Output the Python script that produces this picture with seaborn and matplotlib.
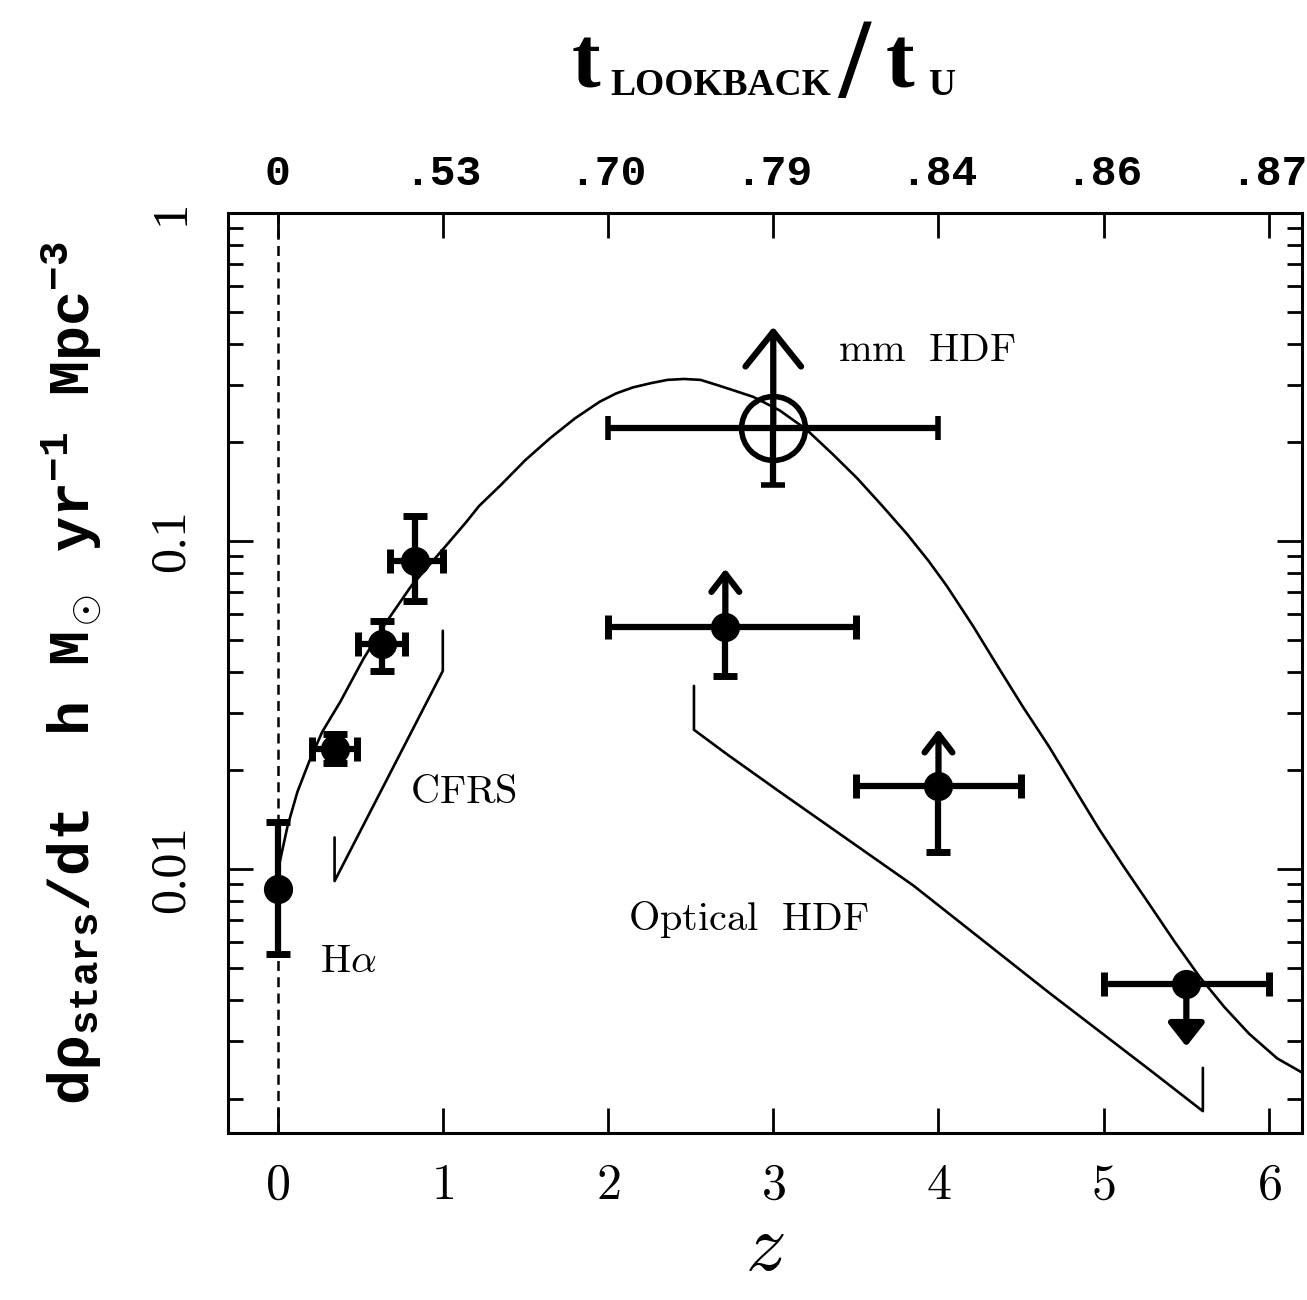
import numpy as np
import matplotlib
matplotlib.use('Agg')
import matplotlib.pyplot as plt
import seaborn as sns
from matplotlib.patches import FancyArrowPatch
from matplotlib.ticker import LogLocator, NullFormatter, FixedLocator

# model star formation rate curve
model_z = [0.0, 0.06, 0.12, 0.19, 0.27, 0.38, 0.52, 0.66, 0.81, 1.02, 1.14, 1.22,
           1.35, 1.5, 1.65, 1.8, 1.95, 2.05, 2.15, 2.26, 2.36, 2.46, 2.56, 2.66,
           2.76, 2.88, 3.04, 3.2, 3.36, 3.51, 3.66, 3.81, 3.94, 4.05, 4.21, 4.36,
           4.51, 4.67, 4.82, 4.97, 5.12, 5.27, 5.43, 5.58, 5.73, 5.88, 6.05, 6.2]
model_rate = [0.0098, 0.0135, 0.0172, 0.0212, 0.0262, 0.0324, 0.0438, 0.0568,
              0.0731, 0.0969, 0.114, 0.128, 0.148, 0.1766, 0.206, 0.2366, 0.266,
              0.282, 0.294, 0.303, 0.310, 0.312, 0.310, 0.299, 0.288, 0.275,
              0.250, 0.219, 0.184, 0.155, 0.128, 0.105, 0.087, 0.073, 0.055,
              0.0414, 0.0313, 0.0236, 0.0177, 0.0133, 0.0102, 0.0079, 0.0060,
              0.0047, 0.0038, 0.00315, 0.00265, 0.0024]

# H-alpha point
ha_z = [0.0]
ha_rate = [0.0087]
ha_lo = [0.0055]
ha_hi = [0.0139]

# CFRS points
cfrs_z = [0.345, 0.63, 0.83]
cfrs_rate = [0.0232, 0.0486, 0.0871]
cfrs_lo = [0.0210, 0.0402, 0.0655]
cfrs_hi = [0.0258, 0.057, 0.119]
cfrs_zlo = [0.21, 0.485, 0.68]
cfrs_zhi = [0.48, 0.77, 1.0]

# optical HDF lower limits
hdf_z = [2.71, 4.0]
hdf_rate = [0.0548, 0.0179]
hdf_lo = [0.0389, 0.0113]
hdf_limit = [0.0824, 0.0267]
hdf_zlo = [2.0, 3.5]
hdf_zhi = [3.5, 4.5]

# z~5.5 upper limit
ul_z = [5.5]
ul_rate = [0.00446]
ul_limit = [0.00288]
ul_zlo = [5.0]
ul_zhi = [6.0]

# mm HDF lower limit
mm_z = [3.0]
mm_rate = [0.221]
mm_lo = [0.148]
mm_limit = [0.45]
mm_zlo = [2.0]
mm_zhi = [4.0]

# survey wedges
cfrs_wedge_z = [0.345, 0.345, 1.0, 1.0]
cfrs_wedge_rate = [0.0125, 0.0092, 0.0402, 0.0533]
opt_wedge_z = [2.52, 2.52, 2.72, 3.04, 3.85, 4.67, 5.29, 5.6, 5.6]
opt_wedge_rate = [0.0362, 0.0266, 0.0224, 0.0172, 0.0089, 0.0042, 0.00242,
                  0.00183, 0.00248]

# axis ticks
z_ticks = [0, 1, 2, 3, 4, 5, 6]
lookback_labels = ['0', '.53', '.70', '.79', '.84', '.86', '.87']
y_ticks = [0.01, 0.1, 1]
y_labels = ['0.01', '0.1', '1']

sns.set_style('ticks', {'axes.edgecolor': 'black', 'xtick.color': 'black',
                        'ytick.color': 'black', 'text.color': 'black',
                        'axes.labelcolor': 'black'})
plt.rcParams['mathtext.fontset'] = 'cm'
plt.rcParams['mathtext.rm'] = 'Liberation Mono:bold'
plt.rcParams['mathtext.it'] = 'Liberation Mono:bold'
plt.rcParams['mathtext.bf'] = 'Liberation Mono:bold'

fig = plt.figure(figsize=(13.07, 13.0), dpi=100)
ax = fig.add_axes([228 / 1307, 1 - 1133 / 1300, 1074 / 1307, 920 / 1300])
ax.set_yscale('log')

# model curve and wedges
sns.lineplot(x=model_z, y=model_rate, color='black', lw=1.9, ax=ax)
sns.lineplot(x=cfrs_wedge_z, y=cfrs_wedge_rate, sort=False, estimator=None,
             color='black', lw=1.9, ax=ax)
sns.lineplot(x=opt_wedge_z, y=opt_wedge_rate, sort=False, estimator=None,
             color='black', lw=1.9, ax=ax)
ax.axvline(0, color='black', lw=1.8, dashes=(4, 2.5))

eb = dict(fmt='o', color='black', ms=20, elinewidth=4.5, capsize=8.5, capthick=5)

ha_r = np.array(ha_rate)
ax.errorbar(ha_z, ha_rate, yerr=[ha_r - np.array(ha_lo), np.array(ha_hi) - ha_r], **eb)

c_r = np.array(cfrs_rate)
c_z = np.array(cfrs_z)
ax.errorbar(cfrs_z, cfrs_rate,
            xerr=[c_z - np.array(cfrs_zlo), np.array(cfrs_zhi) - c_z],
            yerr=[c_r - np.array(cfrs_lo), np.array(cfrs_hi) - c_r], **eb)

h_r = np.array(hdf_rate)
h_z = np.array(hdf_z)
ax.errorbar(hdf_z, hdf_rate,
            xerr=[h_z - np.array(hdf_zlo), np.array(hdf_zhi) - h_z],
            yerr=[h_r - np.array(hdf_lo), np.zeros(len(h_r))], **eb)
for z, r, lim in zip(hdf_z, hdf_rate, hdf_limit):
    ax.add_patch(FancyArrowPatch((z, r), (z, lim), arrowstyle='->,head_length=13,head_width=10',
                                 mutation_scale=1, lw=4.5, color='black', shrinkA=0, shrinkB=0))

u_z = np.array(ul_z)
ax.errorbar(ul_z, ul_rate, xerr=[u_z - np.array(ul_zlo), np.array(ul_zhi) - u_z], **eb)
for z, r, lim in zip(ul_z, ul_rate, ul_limit):
    ax.add_patch(FancyArrowPatch((z, r), (z, lim), arrowstyle='-|>,head_length=14,head_width=11',
                                 mutation_scale=1, lw=4.5, color='black', shrinkA=0, shrinkB=0))

m_z = np.array(mm_z)
m_r = np.array(mm_rate)
ax.errorbar(mm_z, mm_rate, xerr=[m_z - np.array(mm_zlo), np.array(mm_zhi) - m_z],
            yerr=[m_r - np.array(mm_lo), np.zeros(len(m_r))], fmt='o', color='black',
            mfc='none', mec='black', ms=46, mew=4, elinewidth=4.5, capsize=8.5, capthick=5)
for z, r, lim in zip(mm_z, mm_rate, mm_limit):
    ax.add_patch(FancyArrowPatch((z, r), (z, lim), arrowstyle='->,head_length=25,head_width=20',
                                 mutation_scale=1, lw=4.5, color='black', shrinkA=0, shrinkB=0))

# labels on the plot
ax.text(3.39, 0.382, r'$\mathrm{mm\ \ HDF}$', fontsize=29, ha='left', va='center')
ax.text(2.12, 0.00703, r'$\mathrm{Optical\ \ HDF}$', fontsize=29, ha='left', va='center')
ax.text(0.80, 0.0172, r'$\mathrm{CFRS}$', fontsize=29, ha='left', va='center')
ax.text(0.255, 0.00524, r'$\mathrm{H}\alpha$', fontsize=29, ha='left', va='center')

# axes
ax.set_xlim(-0.30, 6.2)
ax.set_ylim(0.00157, 1.0)
for s in ax.spines.values():
    s.set_linewidth(2.2)

ax.xaxis.set_major_locator(FixedLocator(z_ticks))
ax.set_xticklabels(['$%d$' % t for t in z_ticks], fontsize=36)
ax.set_yticks(y_ticks)
ax.set_yticklabels(y_labels, fontsize=36, family='Liberation Serif', rotation=90, va='center')
ax.yaxis.set_minor_locator(LogLocator(base=10, subs=np.arange(2, 10), numticks=20))
ax.yaxis.set_minor_formatter(NullFormatter())
ax.tick_params(which='major', direction='in', length=18, width=2, top=True, right=True)
ax.tick_params(which='minor', direction='in', length=11, width=2, top=False, right=True)
ax.tick_params(axis='x', which='minor', bottom=False, top=False)
ax.tick_params(axis='x', which='major', pad=20)
ax.tick_params(axis='y', which='major', pad=24)

secax = ax.secondary_xaxis('top')
secax.set_xticks(z_ticks)
secax.set_xticklabels(lookback_labels, fontsize=31, family='Liberation Mono', weight='bold')
secax.tick_params(length=0, pad=14)
secax.spines['top'].set_visible(False)

ax.set_xlabel('$z$', fontsize=58, labelpad=0)
ax.set_ylabel(r'd$\rho_{\rm stars}$/dt  h M$_\odot$ yr$^{-1}$ Mpc$^{-3}$', fontsize=42,
              family='Liberation Mono', weight='bold', math_fontfamily='custom')
ax.yaxis.set_label_coords(-0.115, 0.5)

# top title built from pieces
fig.text(572 / 1307, 1 - 87 / 1300, 't', fontsize=62, family='Liberation Serif',
         weight='bold', va='baseline', ha='left')
fig.text(610 / 1307, 1 - 95 / 1300, 'LOOKBACK', fontsize=27, family='Liberation Serif',
         weight='bold', va='baseline', ha='left')
fig.text(838 / 1307, 1 - 97 / 1300, '/', fontsize=82, family='Liberation Serif',
         weight='bold', va='baseline', ha='left')
fig.text(886 / 1307, 1 - 87 / 1300, 't', fontsize=62, family='Liberation Serif',
         weight='bold', va='baseline', ha='left')
fig.text(928 / 1307, 1 - 95 / 1300, 'U', fontsize=27, family='Liberation Serif',
         weight='bold', va='baseline', ha='left')

fig.savefig('out.png', dpi=100)
